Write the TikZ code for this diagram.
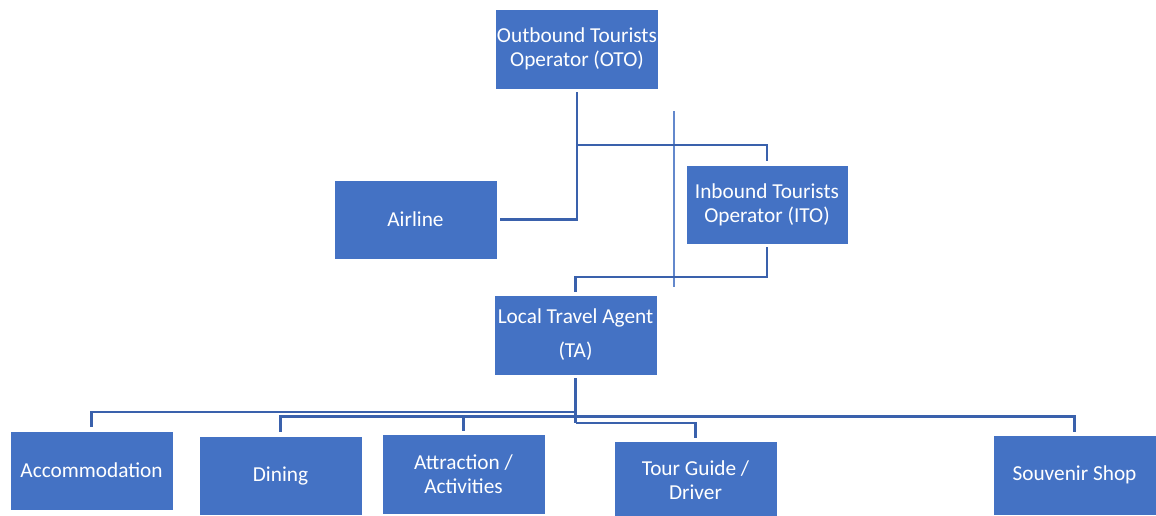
\documentclass[tikz,border=0pt]{standalone}
\usepackage{fontspec}
\setmainfont{Carlito}
\definecolor{boxblue}{HTML}{4472C4}
\definecolor{linkblue}{HTML}{3A61AC}
\definecolor{guideblue}{HTML}{6388CC}
\begin{document}
\begin{tikzpicture}[x=1pt,y=-1pt,
  box/.style={fill=boxblue, draw=white, line width=0.6pt, text=white, inner sep=0pt,
    minimum width=163pt, minimum height=80pt, align=center,
    font=\fontsize{21.3}{24}\selectfont},
  conn/.style={draw=linkblue, line width=2.6pt},
  guide/.style={draw=guideblue, line width=1.4pt}]
\clip (0,0) rectangle (1156,515);
\fill[white] (0,0) rectangle (1156,515);

% organisation boxes
\node[box] (oto) at (577,49) {Outbound Tourists\\Operator (OTO)};
\node[box, minimum height=79pt] (air) at (415.5,219.5) {Airline};
\node[box, minimum width=162pt, minimum height=79pt] (ito) at (767,204.5) {Inbound Tourists\\Operator (ITO)};
\node[box] (ta) at (575.5,335) {Local Travel Agent\\[10pt](TA)};
\node[box, minimum height=79pt] (acc) at (91.5,470.5) {Accommodation};
\node[box, minimum height=79pt] (din) at (280.5,475.5) {Dining};
\node[box] (att) at (463.5,474) {Attraction /\\Activities};
\node[box, minimum height=78pt] (tour) at (695.5,480) {Tour Guide /\\Driver};
\node[box] (sou) at (1074.5,475) {Souvenir Shop};

% junction points
\coordinate (ja) at (577,145);
\coordinate (jb) at (575.5,277);
\coordinate (b1) at (575.5,412);
\coordinate (b2) at (575.5,416.5);
\coordinate (b3) at (575.5,423);
\coordinate (g1) at (674,111);
\coordinate (g2) at (674,287);

% thin vertical divider
\draw[guide] (g1) -- (g2);

% upper links
\draw[conn, shorten <=3pt, shorten >=3pt] (oto.south) |- (air.east);
\draw[conn, shorten >=4pt] (ja) -| (ito.north);
\draw[conn, shorten <=3pt, shorten >=3pt] (ito.south) |- (jb) -- (ta.north);

% lower links
\draw[conn, shorten <=3pt] (ta.south) -- (b3);
\draw[conn, shorten >=4pt] (b1) -| (acc.north);
\draw[conn, shorten >=4pt] (b2) -| (din.north);
\draw[conn, shorten >=3pt] (b2) -| (att.north);
\draw[conn, shorten >=3pt] (b2) -| (sou.north);
\draw[conn, shorten >=3pt] (b3) -| (tour.north);
\end{tikzpicture}
\end{document}
